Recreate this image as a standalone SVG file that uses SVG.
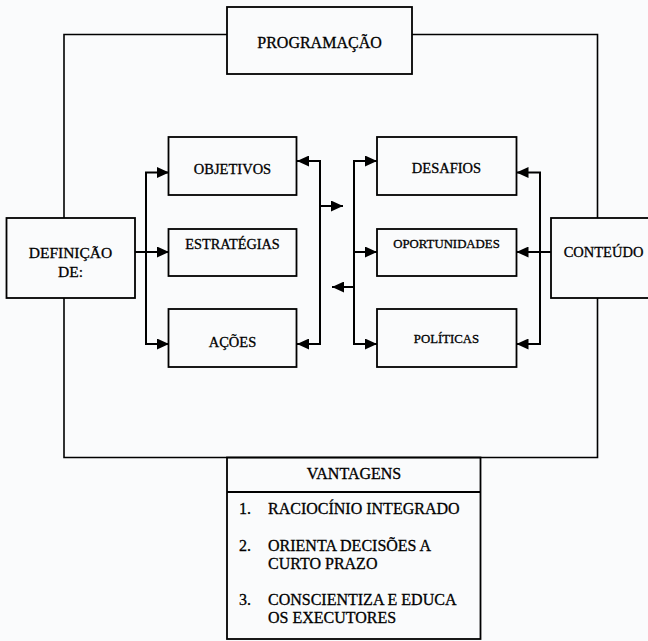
<svg xmlns="http://www.w3.org/2000/svg" width="648" height="641" viewBox="0 0 648 641">
<style>
  .box { fill: none; stroke: #000; stroke-width: 1.8; }
  .outer { fill: none; stroke: #000; stroke-width: 1.6; }
  .conn { fill: none; stroke: #000; stroke-width: 2; }
  .arr { fill: none; stroke: #000; stroke-width: 2; marker-end: url(#ah); }
  text { font-family: "Liberation Serif", "Times New Roman", serif; fill: #000; stroke: #000; stroke-width: 0.3; }
  .c { text-anchor: middle; }
</style>
<defs>
  <marker id="ah" viewBox="0 0 12 11" refX="12" refY="5.5" markerWidth="12" markerHeight="11" markerUnits="userSpaceOnUse" orient="auto">
    <path d="M0,0 L12,5.5 L0,11 Z" fill="#000"/>
  </marker>
</defs>
<rect x="0" y="0" width="648" height="641" fill="#fafbfc"/>

<g id="connectors">
  <path class="outer" d="M64,218 V34.5 H227"/>
  <path class="outer" d="M412,34.5 H597.5 V218"/>
  <path class="outer" d="M64,298 V457.5 H597.5 V298"/>
  <path class="arr" d="M135,252 H169"/>
  <path class="conn" d="M146,172.5 V344"/>
  <path class="arr" d="M145,172.5 H169"/>
  <path class="arr" d="M145,344 H169"/>
  <path class="conn" d="M320,161 V344"/>
  <path class="arr" d="M321,161 H297"/>
  <path class="arr" d="M321,344 H297"/>
  <path class="arr" d="M320,206 H343"/>
  <path class="conn" d="M354,161 V344"/>
  <path class="arr" d="M353,161 H377"/>
  <path class="arr" d="M353,252 H377"/>
  <path class="arr" d="M353,344 H377"/>
  <path class="arr" d="M354,287 H332"/>
  <path class="conn" d="M540,172.5 V344"/>
  <path class="arr" d="M541,172.5 H516.5"/>
  <path class="arr" d="M551,252 H516.5"/>
  <path class="arr" d="M541,344 H516.5"/>
</g>

<g id="programacao">
  <rect class="box" x="227" y="7" width="185" height="67"/>
  <text class="c" x="319.5" y="47.5" font-size="16">PROGRAMAÇÃO</text>
</g>
<g id="definicao">
  <rect class="box" x="6.5" y="218" width="128.5" height="80"/>
  <text class="c" x="70.5" y="258" font-size="15.5">DEFINIÇÃO</text>
  <text class="c" x="70.5" y="277" font-size="15.5">DE:</text>
</g>
<g id="conteudo">
  <rect class="box" x="551" y="218" width="100" height="80"/>
  <text class="c" x="603.5" y="256.5" font-size="14.5">CONTEÚDO</text>
</g>
<g id="objetivos">
  <rect class="box" x="168.5" y="137" width="128" height="58"/>
  <text class="c" x="232.5" y="174" font-size="14.5">OBJETIVOS</text>
</g>
<g id="estrategias">
  <rect class="box" x="168.5" y="229" width="128" height="47"/>
  <text class="c" x="232.5" y="249" font-size="14.3">ESTRATÉGIAS</text>
</g>
<g id="acoes">
  <rect class="box" x="168.5" y="309" width="128" height="58"/>
  <text class="c" x="232.5" y="346.5" font-size="14.5">AÇÕES</text>
</g>
<g id="desafios">
  <rect class="box" x="377" y="137" width="139.5" height="58"/>
  <text class="c" x="446.5" y="172.5" font-size="14.5">DESAFIOS</text>
</g>
<g id="oportunidades">
  <rect class="box" x="377" y="229" width="139.5" height="47"/>
  <text class="c" x="446.5" y="247.5" font-size="12.8">OPORTUNIDADES</text>
</g>
<g id="politicas">
  <rect class="box" x="377" y="309" width="139.5" height="58"/>
  <text class="c" x="446.5" y="342.5" font-size="12.8">POLÍTICAS</text>
</g>
<g id="vantagens">
  <rect class="box" x="227" y="457.5" width="253.5" height="181.5"/>
  <line class="box" x1="227" y1="492" x2="480.5" y2="492"/>
  <text class="c" x="354" y="479" font-size="16">VANTAGENS</text>
  <text x="239" y="514" font-size="16">1.</text>
  <text x="268" y="514" font-size="16">RACIOCÍNIO INTEGRADO</text>
  <text x="239" y="551" font-size="16">2.</text>
  <text x="268" y="551" font-size="16">ORIENTA DECISÕES A</text>
  <text x="268" y="568.5" font-size="16">CURTO PRAZO</text>
  <text x="239" y="605" font-size="16">3.</text>
  <text x="268" y="605" font-size="16">CONSCIENTIZA E EDUCA</text>
  <text x="268" y="622.5" font-size="16">OS EXECUTORES</text>
</g>
</svg>
